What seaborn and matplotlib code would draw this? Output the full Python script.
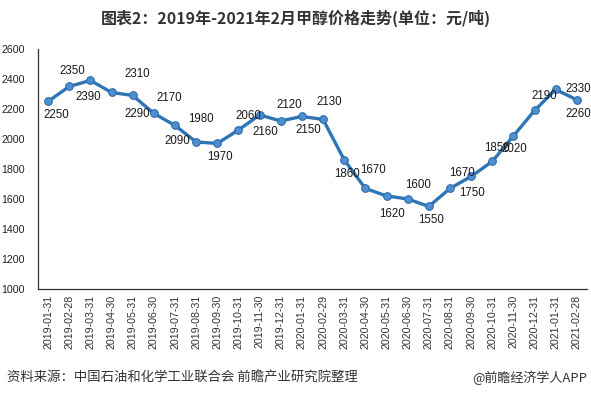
#!/usr/bin/env python3

import pandas as pd
import seaborn as sns
import matplotlib.pyplot as plt

# monthly methanol price, yuan/ton
dates = ['2019-01-31', '2019-02-28', '2019-03-31', '2019-04-30', '2019-05-31',
         '2019-06-30', '2019-07-31', '2019-08-31', '2019-09-30', '2019-10-31',
         '2019-11-30', '2019-12-31', '2020-01-31', '2020-02-29', '2020-03-31',
         '2020-04-30', '2020-05-31', '2020-06-30', '2020-07-31', '2020-08-31',
         '2020-09-30', '2020-10-31', '2020-11-30', '2020-12-31', '2021-01-31',
         '2021-02-28']
prices = [2250, 2350, 2390, 2310, 2290, 2170, 2090, 1980, 1970, 2060,
          2160, 2120, 2150, 2130, 1860, 1670, 1620, 1600, 1550, 1670,
          1750, 1850, 2020, 2190, 2330, 2260]
y_ticks = [1000, 1200, 1400, 1600, 1800, 2000, 2200, 2400, 2600]

title = '图表2：2019年-2021年2月甲醇价格走势(单位：元/吨)'
source = '资料来源：中国石油和化学工业联合会 前瞻产业研究院整理'
credit = '@前瞻经济学人APP'

# label offsets in pixels (dx, dy) relative to each point
label_offsets = [(8, -14), (3, 15), (-2, -17), (26, 18), (5, -19), (15, 15),
                 (2, -16), (5, 23), (3, -14), (10, 14), (6, -17), (8, 16),
                 (6, -14), (6, 17), (3, -14), (8, 18), (6, -18), (10, 14),
                 (2, -14), (12, 15), (1, -17), (5, 13), (1, -13), (10, 14),
                 (23, 0), (1, -14)]


def main():
    sns.set_style('white')
    plt.rcParams['font.family'] = ['Liberation Sans', 'Noto Sans CJK SC', 'DejaVu Sans']
    cjk = ['Noto Sans CJK SC', 'DejaVu Sans']

    data = pd.DataFrame({'date': dates, 'price': prices})

    fig = plt.figure(figsize=(5.91, 3.98), dpi=100)
    ax = fig.add_axes([0.0635, 0.274, 0.9305, 0.603])

    sns.lineplot(data=data, x='date', y='price', sort=False, ax=ax,
                 color='#2E75B6', linewidth=2.4, marker='o', markersize=5.5,
                 markerfacecolor='#4F8FD0', markeredgecolor='#2E6DAE',
                 markeredgewidth=0.8)

    for i, (v, off) in enumerate(zip(prices, label_offsets)):
        ax.annotate(str(v), (i, v), xytext=off, textcoords='offset pixels',
                    ha='center', va='center', fontsize=8.3, color='#1a1a1a')

    ax.set_xlim(-0.5, len(dates) - 0.5)
    ax.set_ylim(1000, 2600)
    ax.set_yticks(y_ticks)
    ax.set_xlabel('')
    ax.set_ylabel('')
    ax.tick_params(axis='x', rotation=90, labelsize=7.7, direction='inout',
                   length=4, width=0.8, colors='#333333', pad=2)
    ax.tick_params(axis='y', labelsize=7.7, length=0, pad=9, colors='#222222')

    for side in ['top', 'right']:
        ax.spines[side].set_visible(False)
    for side in ['left', 'bottom']:
        ax.spines[side].set_color('#333333')
        ax.spines[side].set_linewidth(0.9)

    fig.text(0.5, 0.955, title, ha='center', va='center', fontsize=11.5,
             fontweight='bold', color='#333333', family=cjk)
    fig.text(0.012, 0.05, source, ha='left', va='center', fontsize=9.6,
             color='#333333', family=cjk)
    fig.text(0.994, 0.05, credit, ha='right', va='center', fontsize=9.4,
             color='#333333', family=cjk)

    plt.savefig('out.png', format='png', dpi=100)


if __name__ == '__main__':
    main()
